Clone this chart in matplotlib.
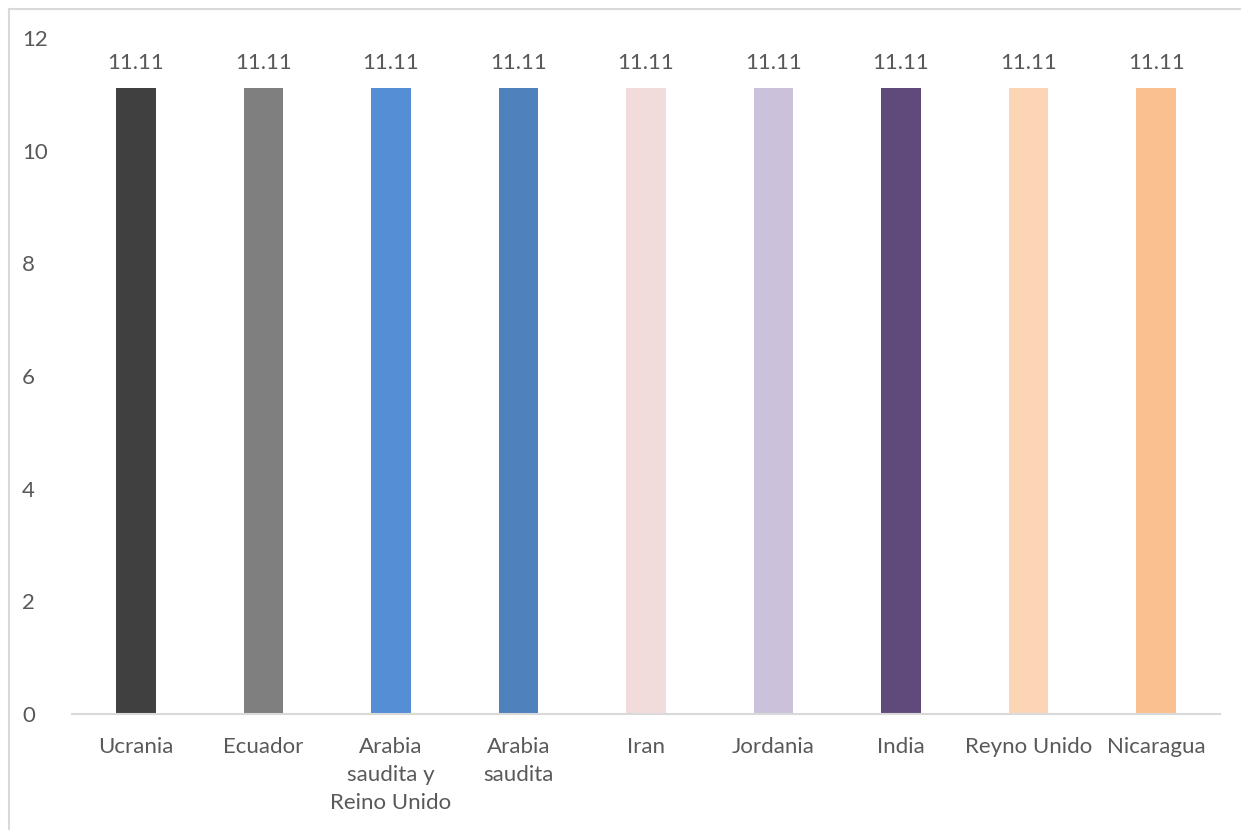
import matplotlib.pyplot as plt
from matplotlib.lines import Line2D

# Data
countries = ['Ucrania', 'Ecuador', 'Arabia\nsaudita y\nReino Unido', 'Arabia\nsaudita',
             'Iran', 'Jordania', 'India', 'Reyno Unido', 'Nicaragua']
values = [11.11, 11.11, 11.11, 11.11, 11.11, 11.11, 11.11, 11.11, 11.11]
colors = ['#404040', '#7f7f7f', '#558ed5', '#4f81bd', '#f2dcdb',
          '#ccc1da', '#604a7b', '#fcd5b5', '#fac090']
yticks = [0, 2, 4, 6, 8, 10, 12]

plt.rcParams['font.family'] = ['Lato', 'DejaVu Sans']
txt = '#595959'
fs = 16

fig = plt.figure(figsize=(12.41, 8.30), dpi=100)
ax = fig.add_axes([0.058, 0.140, 0.925, 0.814])

x = range(len(countries))
ax.bar(x, values, width=0.31, color=colors, zorder=2)

# value labels
for i, v in zip(x, values):
    ax.text(i, v + 0.28, f'{v:.2f}', ha='center', va='bottom', fontsize=fs, color=txt)

ax.set_xlim(-0.5, len(countries) - 0.5)
ax.set_ylim(0, 12)
ax.set_yticks(yticks)
ax.set_yticklabels([str(t) for t in yticks], fontsize=fs, color=txt)
ax.set_xticks(list(x))
ax.set_xticklabels(countries, fontsize=fs, color=txt, linespacing=1.5, va='top')
ax.tick_params(axis='both', length=0)
ax.tick_params(axis='x', pad=17)
ax.tick_params(axis='y', pad=36)
for lbl in ax.get_yticklabels():
    lbl.set_horizontalalignment('left')

# frame removal, keep light baseline
for s in ['top', 'right', 'left']:
    ax.spines[s].set_visible(False)
ax.spines['bottom'].set_color('#d9d9d9')
ax.spines['bottom'].set_linewidth(1.5)

# chart border (top and left visible only)
fx = 9 / 1241
fy = 1 - 9 / 830
fig.add_artist(Line2D([fx, 1.0], [fy, fy], transform=fig.transFigure, color='#d9d9d9', lw=1.5))
fig.add_artist(Line2D([fx, fx], [0.0, fy], transform=fig.transFigure, color='#d9d9d9', lw=1.5))

fig.savefig('out.png', dpi=100)
